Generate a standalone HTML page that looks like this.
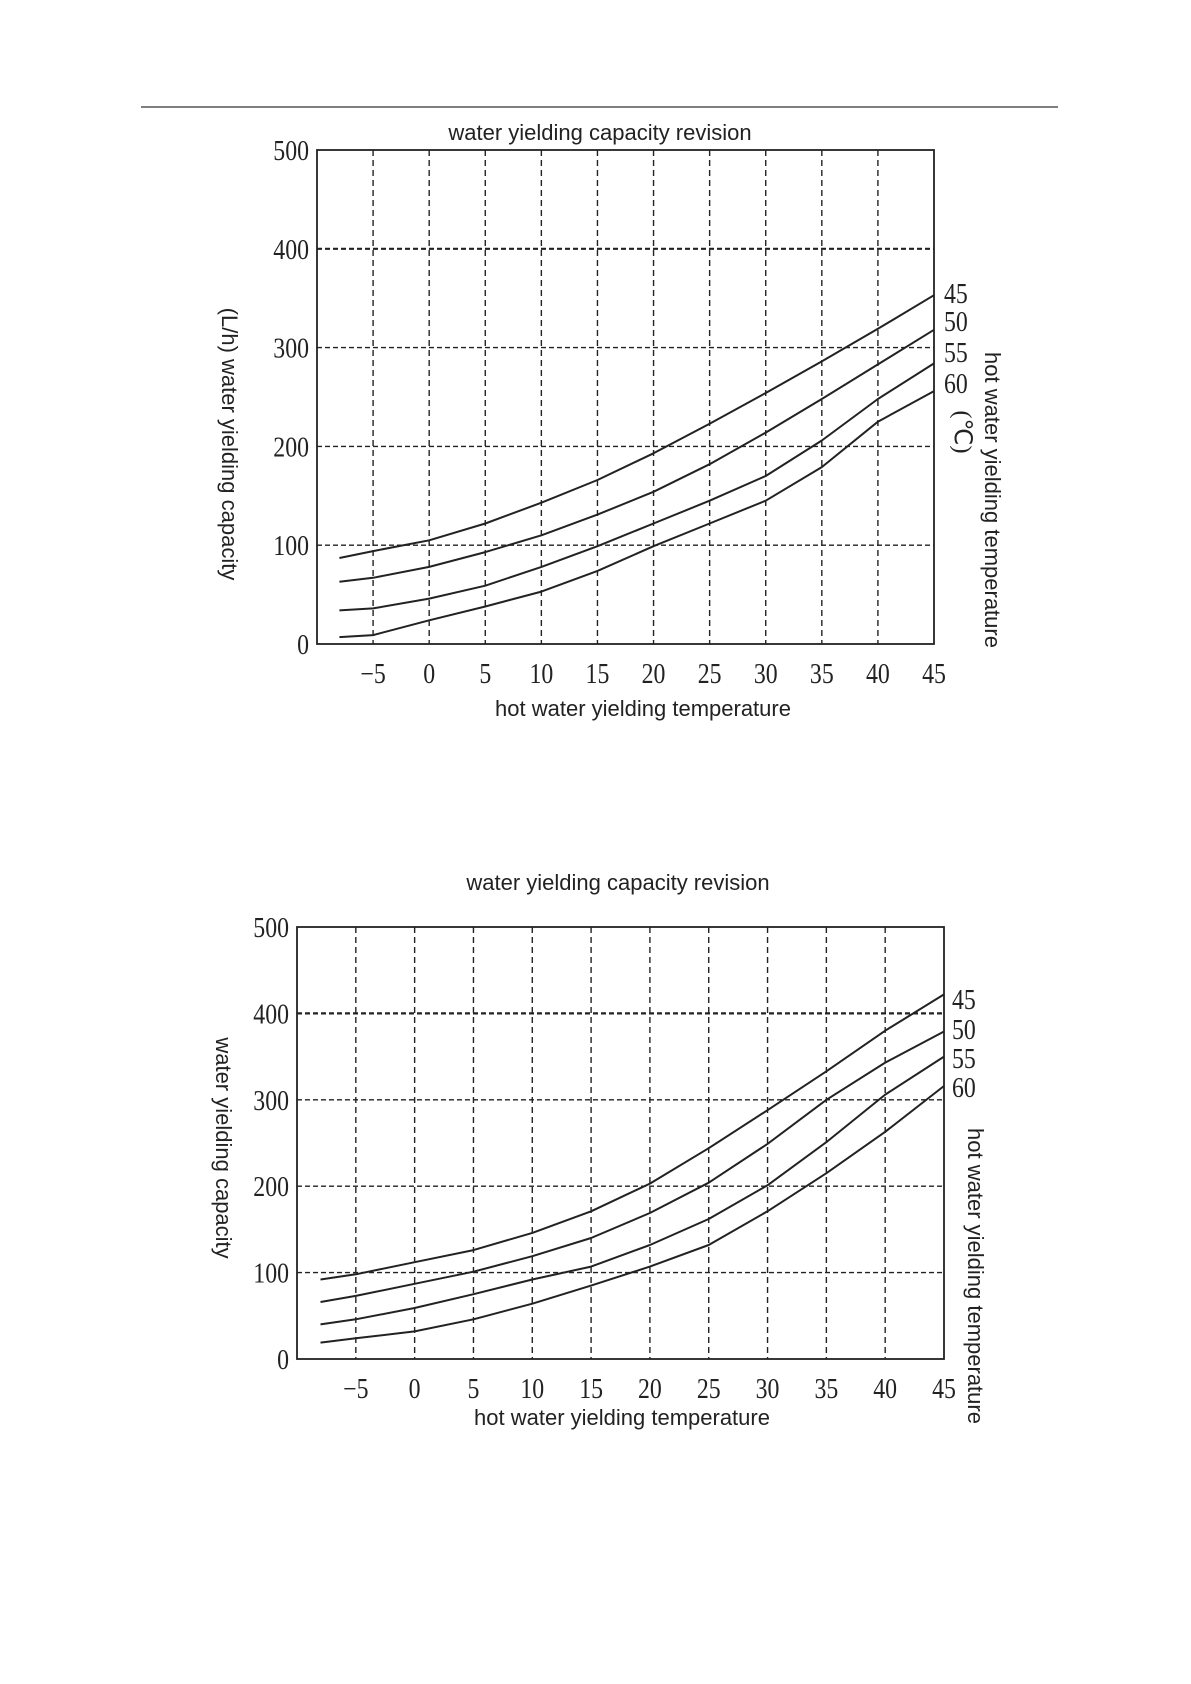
<!DOCTYPE html>
<html><head><meta charset="utf-8"><style>
html,body{margin:0;padding:0;background:#fff;}
svg{display:block;}
text{fill:#222;}
.sans{font-family:"Liberation Sans",sans-serif;}
.serif{font-family:"Liberation Serif",serif;}
</style></head><body>
<svg id="page" width="1191" height="1684" viewBox="0 0 1191 1684" xmlns="http://www.w3.org/2000/svg">
<line x1="141" y1="107" x2="1058" y2="107" stroke="#333" stroke-width="1.3"/>
<g id="chart1"></g>
<g id="chart2"></g>
</svg>
<script>
const xTicks = [-5,0,5,10,15,20,25,30,35,40,45];
const yTicks = [0,100,200,300,400,500];
const seriesNames = ["45","50","55","60"];
const c1Temps = [-8,-5,0,5,10,15,20,25,30,35,40,45];
const c1S45 = [87,94,105,122,143,166,193,223,254,286,319,353];
const c1S50 = [63,67,78,93,110,131,154,182,214,248,283,318];
const c1S55 = [34,36,46,59,78,99,122,145,170,206,248,284];
const c1S60 = [7,9,24,38,53,74,99,122,145,179,225,256];
const c2Temps = [-8,-5,0,5,10,15,20,25,30,35,40,45];
const c2S45 = [92,98,112,126,146,171,203,244,288,333,380,422];
const c2S50 = [66,73,87,101,119,140,169,204,249,300,343,379];
const c2S55 = [40,46,59,75,92,107,132,162,201,251,306,350];
const c2S60 = [19,24,32,46,64,85,107,132,171,215,263,316];

const NS="http://www.w3.org/2000/svg";
function mk(tag,attrs,parent){const e=document.createElementNS(NS,tag);for(const k in attrs)e.setAttribute(k,attrs[k]);parent.appendChild(e);return e;}

function drawChart(g,cfg){
  const xs=v=>cfg.L+(v-(-10))/55*(cfg.R-cfg.L);
  const ys=v=>cfg.B-v/500*(cfg.B-cfg.T);
  // title
  const t=mk('text',{x:cfg.titleX,y:cfg.titleY,'font-size':22,'text-anchor':'middle',class:'sans'},g);
  
  
  t.textContent='water yielding capacity revision';
  // grid
  xTicks.slice(0,-1).forEach(v=>{
    const l=mk('line',{x1:xs(v),y1:cfg.T,x2:xs(v),y2:cfg.B,stroke:'#222','stroke-width':1.4,'stroke-dasharray':'6 4'},g);
    
    
  });
  yTicks.slice(1,-1).forEach(v=>{
    const l=mk('line',{x1:cfg.L,y1:ys(v),x2:cfg.R,y2:ys(v),stroke:'#222','stroke-width':v===400?2.2:1.4,'stroke-dasharray':'5 3'},g);
    
    
  });
  const fr=mk('rect',{x:cfg.L,y:cfg.T,width:cfg.R-cfg.L,height:cfg.B-cfg.T,fill:'none',stroke:'#222','stroke-width':1.8},g);
  
  
  // tick labels
  yTicks.forEach(v=>{
    const e=mk('text',{x:cfg.L-8,y:ys(v)+10,'font-size':28,'text-anchor':'end',class:'serif',transform:`translate(${cfg.L-8},0) scale(0.85,1) translate(${-(cfg.L-8)},0)`},g);
    
    
    e.textContent=v;
  });
  xTicks.forEach(v=>{
    const e=mk('text',{x:xs(v),y:cfg.xLabY,'font-size':28,'text-anchor':'middle',class:'serif',transform:`translate(${xs(v)},0) scale(0.85,1) translate(${-xs(v)},0)`},g);
    
    
    e.textContent=v<0?'\u2212'+(-v):v;
  });
  // axis titles
  const xt=mk('text',{x:cfg.xTitleX,y:cfg.xTitleY,'font-size':22,'text-anchor':'middle',class:'sans'},g);
  
  
  xt.textContent='hot water yielding temperature';
  const yt=mk('text',{x:0,y:0,'font-size':22,'text-anchor':'middle',class:'sans',transform:`translate(${cfg.yTitleX},${cfg.yTitleY}) rotate(90)`},g);
  
  
  yt.textContent=cfg.yTitle;
  const rt=mk('text',{x:0,y:0,'font-size':22,'text-anchor':'middle',class:'sans',transform:`translate(${cfg.rTitleX},${cfg.rTitleY}) rotate(90)`},g);
  
  
  rt.textContent='hot water yielding temperature';
  // series
  cfg.series.forEach((s,i)=>{
    let d='';
    cfg.temps.forEach((tv,j)=>{d+=(j?'L':'M')+xs(tv).toFixed(1)+','+ys(s[j]).toFixed(1);});
    const p=mk('path',{d:d,fill:'none',stroke:'#222','stroke-width':2,'stroke-linejoin':'round'},g);
    
    
    const lb=mk('text',{x:cfg.legX,y:cfg.legY[i],'font-size':28,class:'serif',transform:`translate(${cfg.legX},0) scale(0.85,1) translate(${-cfg.legX},0)`},g);
    
    
    lb.textContent=seriesNames[i];
  });
  if(cfg.unit){
    const u=mk('text',{x:0,y:0,'font-size':24,'text-anchor':'middle',class:'serif',transform:`translate(${cfg.unitX},${cfg.unitY}) rotate(90)`},g);
    
    
    u.textContent='(\u2103)';
  }
}

drawChart(document.getElementById('chart1'),{
  L:317,R:934,T:150,B:644,titleX:600,titleY:140,xLabY:683,xTitleX:643,xTitleY:716,
  yTitleX:222,yTitleY:444,yTitle:'(L/h) water yielding capacity',rTitleX:985,rTitleY:500,
  temps:c1Temps,series:[c1S45,c1S50,c1S55,c1S60],legX:944,legY:303,legY:[303,331,362,393],
  unit:true,unitX:955,unitY:432
});
drawChart(document.getElementById('chart2'),{
  L:297,R:944,T:927,B:1359,titleX:618,titleY:890,xLabY:1398,xTitleX:622,xTitleY:1425,
  yTitleX:216,yTitleY:1148,yTitle:'water yielding capacity',rTitleX:968,rTitleY:1276,
  temps:c2Temps,series:[c2S45,c2S50,c2S55,c2S60],legX:952,legY:[1009,1039,1068,1097],unit:false
});
</script>
</body></html>
